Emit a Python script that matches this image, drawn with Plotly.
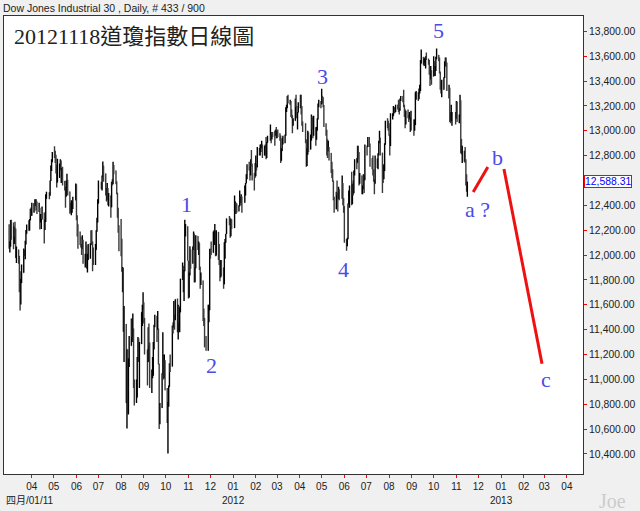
import pandas as pd
import plotly.graph_objects as go

# DJIA daily, 2011-03-01 .. 2012-11-16 (one row per month)
HOLIDAYS = ['2011-04-22', '2011-05-30', '2011-07-04', '2011-09-05', '2011-11-24',
            '2011-12-26', '2012-01-02', '2012-01-16', '2012-02-20', '2012-04-06',
            '2012-05-28', '2012-07-04', '2012-09-03', '2012-10-29', '2012-10-30']
PREV_CLOSE = 12226

CLOSE = [
    12058, 12066, 12258, 12170, 12090, 12214, 12213, 11984, 12044, 11993, 11855, 11613, 11775, 11858, 12037, 12018, 12086, 12171, 12221, 12198, 12280, 12350, 12320,
    12377, 12400, 12394, 12427, 12409, 12380, 12381, 12263, 12270, 12286, 12342, 12202, 12266, 12453, 12506, 12480, 12595, 12691, 12763, 12811,
    12808, 12807, 12724, 12584, 12638, 12684, 12760, 12630, 12695, 12596, 12548, 12479, 12560, 12605, 12512, 12381, 12356, 12394, 12402, 12441, 12570,
    12290, 12248, 12151, 12089, 12070, 12049, 12124, 11952, 11953, 12076, 11898, 11962, 12004, 12080, 12190, 12110, 12050, 11934, 12043, 12188, 12262, 12414,
    12582, 12570, 12626, 12719, 12657, 12505, 12447, 12492, 12437, 12480, 12385, 12587, 12572, 12724, 12681, 12593, 12502, 12303, 12240, 12143,
    12132, 11867, 11897, 11384, 11445, 10810, 11240, 10720, 11144, 11270, 11483, 11406, 11410, 10991, 10818, 10855, 11177, 11321, 11150, 11285, 11540, 11560, 11614,
    11494, 11240, 11140, 11415, 11296, 10992, 11062, 11106, 11247, 11434, 11510, 11402, 11408, 11125, 10734, 10771, 11044, 11191, 11011, 11154, 10913,
    10655, 10809, 10940, 11124, 11103, 11433, 11417, 11519, 11478, 11644, 11397, 11578, 11505, 11541, 11809, 11913, 11707, 11870, 12209, 12231, 11955,
    11658, 11836, 12044, 11984, 12069, 12171, 11781, 11894, 12154, 12079, 12096, 11906, 11771, 11796, 11548, 11494, 11258, 11231, 11524, 11556, 12046,
    12020, 12019, 12098, 12151, 12196, 11997, 12185, 12021, 11954, 11824, 11869, 11866, 11766, 12103, 12108, 12170, 12294, 12292, 12151, 12288, 12218,
    12397, 12418, 12415, 12360, 12393, 12463, 12449, 12471, 12422, 12482, 12578, 12624, 12720, 12708, 12675, 12757, 12734, 12660, 12653, 12633,
    12716, 12706, 12862, 12845, 12878, 12884, 12890, 12801, 12874, 12878, 12781, 12904, 12950, 12966, 12938, 12985, 12983, 12982, 13005, 12952,
    12980, 12978, 12962, 12759, 12837, 12907, 12922, 12960, 13178, 13194, 13253, 13233, 13239, 13170, 13125, 13046, 13081, 13241, 13198, 13127, 13146, 13212,
    13264, 13199, 13075, 13060, 12929, 12716, 12806, 12987, 12850, 12921, 13116, 13033, 12965, 13029, 12928, 13002, 13090, 13205, 13229, 13214,
    13280, 13269, 13207, 13038, 13009, 12932, 12835, 12855, 12821, 12695, 12632, 12599, 12443, 12369, 12504, 12502, 12497, 12530, 12454, 12580, 12419, 12393,
    12119, 12101, 12127, 12414, 12461, 12554, 12411, 12573, 12497, 12652, 12767, 12742, 12837, 12824, 12574, 12640, 12503, 12535, 12628, 12602, 12880,
    12871, 12943, 12897, 12772, 12736, 12653, 12605, 12574, 12777, 12727, 12806, 12909, 12943, 12823, 12722, 12618, 12677, 12888, 13076, 13073, 13009,
    12971, 12878, 13096, 13118, 13169, 13175, 13165, 13208, 13207, 13172, 13164, 13250, 13276, 13271, 13203, 13173, 13057, 13158, 13124, 13103, 13108, 13001, 13091,
    13036, 13047, 13292, 13307, 13254, 13323, 13333, 13540, 13594, 13553, 13565, 13578, 13596, 13579, 13559, 13458, 13414, 13486, 13437,
    13515, 13483, 13495, 13575, 13610, 13584, 13474, 13344, 13326, 13329, 13425, 13552, 13557, 13548, 13344, 13346, 13103, 13078, 13104, 13107, 13096,
    13233, 13093, 13112, 13246, 12933, 12812, 12815, 12815, 12757, 12571, 12543, 12588,
]
HIGH = [
    12248, 12110, 12283, 12284, 12262, 12229, 12269, 12213, 12068, 12044, 11993, 11870, 11810, 11925, 12052, 12040, 12115, 12201, 12245, 12280, 12290, 12372, 12382,
    12420, 12419, 12450, 12450, 12450, 12430, 12420, 12381, 12330, 12290, 12391, 12340, 12286, 12490, 12510, 12506, 12600, 12720, 12770, 12830,
    12876, 12840, 12807, 12724, 12774, 12736, 12770, 12760, 12700, 12710, 12596, 12548, 12600, 12655, 12605, 12512, 12420, 12440, 12430, 12470, 12575,
    12570, 12320, 12248, 12190, 12150, 12090, 12160, 12124, 12010, 12110, 12076, 12010, 12090, 12095, 12200, 12200, 12110, 12060, 12090, 12200, 12300, 12450,
    12600, 12590, 12640, 12753, 12719, 12657, 12540, 12580, 12540, 12500, 12480, 12590, 12610, 12750, 12724, 12681, 12593, 12502, 12380, 12240,
    12290, 12131, 11905, 11897, 11590, 11445, 11240, 11240, 11170, 11350, 11490, 11483, 11530, 11410, 11000, 11000, 11180, 11340, 11330, 11300, 11540, 11600, 11700,
    11620, 11494, 11240, 11420, 11450, 11296, 11080, 11180, 11300, 11440, 11520, 11510, 11550, 11410, 11125, 10810, 11050, 11380, 11200, 11200, 11154,
    10930, 10820, 10950, 11130, 11200, 11433, 11460, 11630, 11519, 11644, 11650, 11600, 11590, 11580, 11810, 11940, 11913, 11880, 12284, 12250, 12231,
    11955, 11860, 12070, 12044, 12069, 12190, 12171, 11900, 12160, 12154, 12110, 12096, 11906, 11860, 11796, 11570, 11494, 11350, 11600, 11600, 12050,
    12050, 12110, 12190, 12200, 12250, 12196, 12200, 12185, 12090, 11954, 11960, 11960, 11900, 12103, 12130, 12170, 12294, 12315, 12300, 12288, 12288,
    12480, 12430, 12420, 12415, 12400, 12520, 12470, 12490, 12471, 12560, 12580, 12650, 12730, 12750, 12710, 12770, 12845, 12734, 12660, 12740,
    12800, 12730, 12870, 12862, 12890, 12890, 12920, 12890, 12880, 12890, 12950, 12910, 12960, 13050, 12966, 12990, 12990, 13000, 13010, 13030,
    13000, 13010, 12980, 12962, 12860, 12940, 12960, 12970, 13190, 13210, 13280, 13290, 13250, 13239, 13170, 13125, 13100, 13260, 13290, 13200, 13150, 13230,
    13290, 13290, 13199, 13075, 13060, 12929, 12860, 13000, 12987, 12970, 13130, 13116, 13100, 13120, 13029, 13030, 13100, 13220, 13250, 13240,
    13338, 13280, 13269, 13207, 13060, 13009, 12932, 12920, 12870, 12821, 12750, 12690, 12599, 12470, 12510, 12600, 12500, 12550, 12530, 12640, 12580, 12460,
    12393, 12130, 12140, 12414, 12520, 12560, 12670, 12573, 12600, 12680, 12770, 12780, 12880, 12880, 12830, 12660, 12640, 12560, 12650, 12640, 12890,
    12880, 12950, 12950, 12897, 12780, 12800, 12690, 12610, 12800, 12777, 12820, 12920, 13000, 12940, 12823, 12720, 12730, 12900, 13080, 13100, 13080,
    13060, 12971, 13140, 13140, 13200, 13190, 13180, 13210, 13210, 13250, 13180, 13260, 13280, 13280, 13330, 13210, 13173, 13160, 13170, 13130, 13150, 13108, 13160,
    13091, 13090, 13310, 13320, 13310, 13340, 13370, 13570, 13653, 13594, 13580, 13590, 13600, 13630, 13580, 13570, 13460, 13520, 13486,
    13600, 13560, 13520, 13595, 13661, 13610, 13590, 13474, 13400, 13410, 13430, 13560, 13590, 13590, 13548, 13370, 13346, 13150, 13210, 13150, 13150,
    13240, 13233, 13130, 13290, 13246, 12933, 12880, 12840, 12870, 12770, 12650, 12590,
]
LOW = [
    12051, 12020, 12066, 12123, 12047, 12090, 12147, 11977, 11936, 11930, 11700, 11555, 11602, 11775, 11858, 11992, 11966, 12086, 12171, 12195, 12197, 12280, 12316,
    12316, 12340, 12350, 12395, 12361, 12330, 12346, 12205, 12263, 12210, 12286, 12093, 12202, 12266, 12453, 12448, 12478, 12595, 12676, 12746,
    12780, 12740, 12657, 12543, 12584, 12620, 12684, 12580, 12580, 12560, 12520, 12381, 12470, 12540, 12480, 12333, 12340, 12320, 12340, 12370, 12441,
    12280, 12150, 12050, 12080, 12060, 12000, 12049, 11930, 11900, 11953, 11890, 11860, 11960, 11970, 12080, 12100, 11870, 11920, 11920, 12043, 12188, 12262,
    12414, 12530, 12520, 12626, 12590, 12480, 12430, 12440, 12400, 12390, 12300, 12385, 12560, 12570, 12650, 12570, 12490, 12300, 12180, 12030,
    11990, 11866, 11700, 11384, 11140, 10810, 10604, 10720, 10720, 11100, 11270, 11340, 11300, 10930, 10790, 10810, 10855, 11160, 11140, 10930, 11285, 11430, 11560,
    11450, 11200, 10950, 11140, 11270, 10930, 10890, 11010, 11030, 11240, 11420, 11300, 11400, 11120, 10600, 10640, 10770, 11044, 11000, 11010, 10913,
    10650, 10404, 10780, 10940, 11060, 11103, 11370, 11417, 11400, 11480, 11380, 11320, 11460, 11380, 11541, 11800, 11700, 11630, 11870, 12150, 11955,
    11650, 11658, 11836, 11890, 11930, 12040, 11781, 11781, 11894, 12040, 12000, 11880, 11730, 11760, 11470, 11430, 11258, 11231, 11231, 11460, 11556,
    11970, 12000, 12019, 12080, 12080, 11990, 11997, 11960, 11920, 11790, 11820, 11830, 11730, 11766, 11970, 12100, 12170, 12240, 12140, 12151, 12210,
    12218, 12330, 12330, 12340, 12350, 12393, 12420, 12400, 12340, 12420, 12480, 12578, 12610, 12680, 12600, 12640, 12710, 12600, 12520, 12620,
    12633, 12680, 12706, 12800, 12800, 12830, 12860, 12780, 12801, 12800, 12770, 12781, 12904, 12920, 12900, 12930, 12950, 12880, 12960, 12940,
    12940, 12950, 12920, 12740, 12759, 12837, 12890, 12900, 12960, 13150, 13180, 13220, 13210, 13110, 13100, 12980, 13040, 13081, 13190, 13100, 13010, 13146,
    13180, 13130, 13040, 12990, 12900, 12710, 12716, 12806, 12830, 12850, 12921, 13010, 12940, 12960, 12880, 12930, 13002, 13090, 13190, 13180,
    13214, 13220, 13190, 13030, 12960, 12800, 12780, 12835, 12760, 12660, 12620, 12590, 12440, 12340, 12369, 12480, 12350, 12450, 12440, 12454, 12400, 12340,
    12100, 12035, 12070, 12127, 12410, 12380, 12400, 12411, 12480, 12497, 12640, 12690, 12742, 12770, 12560, 12574, 12490, 12490, 12530, 12500, 12602,
    12800, 12870, 12870, 12710, 12690, 12640, 12590, 12490, 12574, 12700, 12690, 12800, 12900, 12800, 12500, 12580, 12610, 12677, 12888, 13020, 13000,
    12960, 12800, 12878, 13090, 13118, 13140, 13140, 13150, 13170, 13150, 13130, 13160, 13240, 13230, 13190, 13110, 13020, 13050, 13100, 13070, 13090, 12990, 13001,
    12960, 13000, 13047, 13250, 13240, 13254, 13300, 13320, 13540, 13530, 13520, 13550, 13500, 13570, 13530, 13450, 13360, 13414, 13370,
    13437, 13440, 13440, 13480, 13575, 13560, 13460, 13330, 13300, 13270, 13330, 13425, 13520, 13510, 13320, 13260, 13070, 13060, 13078, 13040, 13050,
    13096, 13070, 13060, 13112, 12820, 12810, 12740, 12750, 12740, 12560, 12510, 12470,
]

LAST_PRICE = 12588.31

# projected a-b-c path (red)
PROJ1_X = ['2012-11-24', '2012-12-14']
PROJ1_Y = [12507, 12708]
PROJ2_X = ['2013-01-05', '2013-02-26']
PROJ2_Y = [12692, 11126]

# wave labels
WAVE_TXT = ['1', '2', '3', '4', '5', 'a ?', 'b', 'c']
WAVE_X = ['2011-10-29', '2011-12-02', '2012-05-02', '2012-05-31', '2012-10-08',
          '2012-11-30', '2012-12-27', '2013-03-03']
WAVE_Y = [12403, 11110, 13439, 11880, 13808, 12363, 12788, 10998]

MONTHS = pd.date_range('2011-04-01', '2013-04-01', freq='MS')
Y_TICKS = [v for v in range(10400, 13801, 200) if v != 12600]

dates = pd.bdate_range('2011-03-01', '2012-11-16', freq='C', holidays=HOLIDAYS)
assert len(dates) == len(CLOSE) == len(HIGH) == len(LOW), (len(dates), len(CLOSE), len(HIGH), len(LOW))
opens = [PREV_CLOSE] + CLOSE[:-1]
highs = [max(h, o, c) for h, o, c in zip(HIGH, opens, CLOSE)]
lows = [min(l, o, c) for l, o, c in zip(LOW, opens, CLOSE)]

fig = go.Figure()
fig.add_trace(go.Ohlc(
    x=dates, open=opens, high=highs, low=lows, close=CLOSE,
    increasing=dict(line=dict(color='#000000', width=1.4)),
    decreasing=dict(line=dict(color='#3a3a3a', width=1.4)),
    tickwidth=0.3, showlegend=False, hoverinfo='skip'))
for px_, py_ in ((PROJ1_X, PROJ1_Y), (PROJ2_X, PROJ2_Y)):
    fig.add_trace(go.Scatter(x=px_, y=py_, mode='lines',
                             line=dict(color='#ee1111', width=3), showlegend=False))

serif = 'Liberation Serif, Times New Roman, serif'
sans = 'Liberation Sans, Arial'
anns = []
for t, x, y in zip(WAVE_TXT, WAVE_X, WAVE_Y):
    anns.append(dict(text=t, x=x, y=y, xref='x', yref='y', showarrow=False,
                     font=dict(family=serif, size=22, color='#4b4be6')))

anns += [
    # title inside the plot (upper left)
    dict(text='20121118道瓊指數日線圖', xref='paper', yref='paper',
         x=0, y=1, xanchor='left', yanchor='top', xshift=8, yshift=-6,
         showarrow=False,
         font=dict(family='Liberation Serif, Noto Sans CJK TC', size=22, color='#222')),
    dict(text='Dow Jones Industrial 30 , Daily, # 433 / 900',
         xref='paper', yref='paper', x=0, y=1, xanchor='left', yanchor='bottom',
         xshift=-3, yshift=0, showarrow=False,
         font=dict(family=sans, size=10.5, color='#222')),
    dict(text=format(LAST_PRICE, ',.2f'), xref='paper', yref='y',
         x=1, y=LAST_PRICE, xanchor='left', xshift=1, showarrow=False,
         bordercolor='#ff0000', borderwidth=1, borderpad=0, bgcolor='white',
         font=dict(family=sans, size=10.4, color='#0000ff')),
    dict(text='四月/01/11', xref='paper', yref='paper', x=0, y=0,
         xanchor='left', yanchor='top', xshift=0, yshift=-19, showarrow=False,
         font=dict(family='Liberation Sans, Noto Sans CJK TC', size=10, color='#222')),
    dict(text='2012', xref='x', yref='paper', x='2012-01-01', y=0,
         yanchor='top', yshift=-19, showarrow=False,
         font=dict(family=sans, size=10, color='#222')),
    dict(text='2013', xref='x', yref='paper', x='2013-01-01', y=0,
         yanchor='top', yshift=-19, showarrow=False,
         font=dict(family=sans, size=10, color='#222')),
    dict(text='Joe', xref='paper', yref='paper', x=1, y=0, xanchor='left',
         yanchor='top', xshift=14, yshift=-14, showarrow=False,
         font=dict(family=serif, size=20, color='#cccccc')),
]

fig.update_layout(
    width=640, height=511,
    margin=dict(l=4, r=57, t=16, b=37),
    paper_bgcolor='#f0f0f0', plot_bgcolor='white',
    annotations=anns,
    xaxis=dict(type='date', range=['2011-02-22', '2013-04-23'],
               tickvals=list(MONTHS), ticktext=[m.strftime('%m') for m in MONTHS],
               ticks='outside', ticklen=3, tickcolor='#ff0000',
               showgrid=False, showline=True, linecolor='#333', mirror=True,
               rangeslider=dict(visible=False), zeroline=False, automargin=False,
               tickfont=dict(family=sans, size=10, color='#222')),
    yaxis=dict(range=[10239, 13923], side='right',
               tickvals=Y_TICKS, ticktext=[format(v, ',.2f') for v in Y_TICKS],
               ticks='outside', ticklen=3, tickcolor='#ff0000',
               showgrid=False, showline=True, linecolor='#333', mirror=True,
               zeroline=False, automargin=False,
               tickfont=dict(family=sans, size=10.4, color='#222')),
)

# page body has an 8px default margin; drop it so the figure sits at 0,0
fig.write_html("out.html", config={'displayModeBar': False},
               post_script="document.body.style.margin='0';document.body.style.overflow='hidden';")
